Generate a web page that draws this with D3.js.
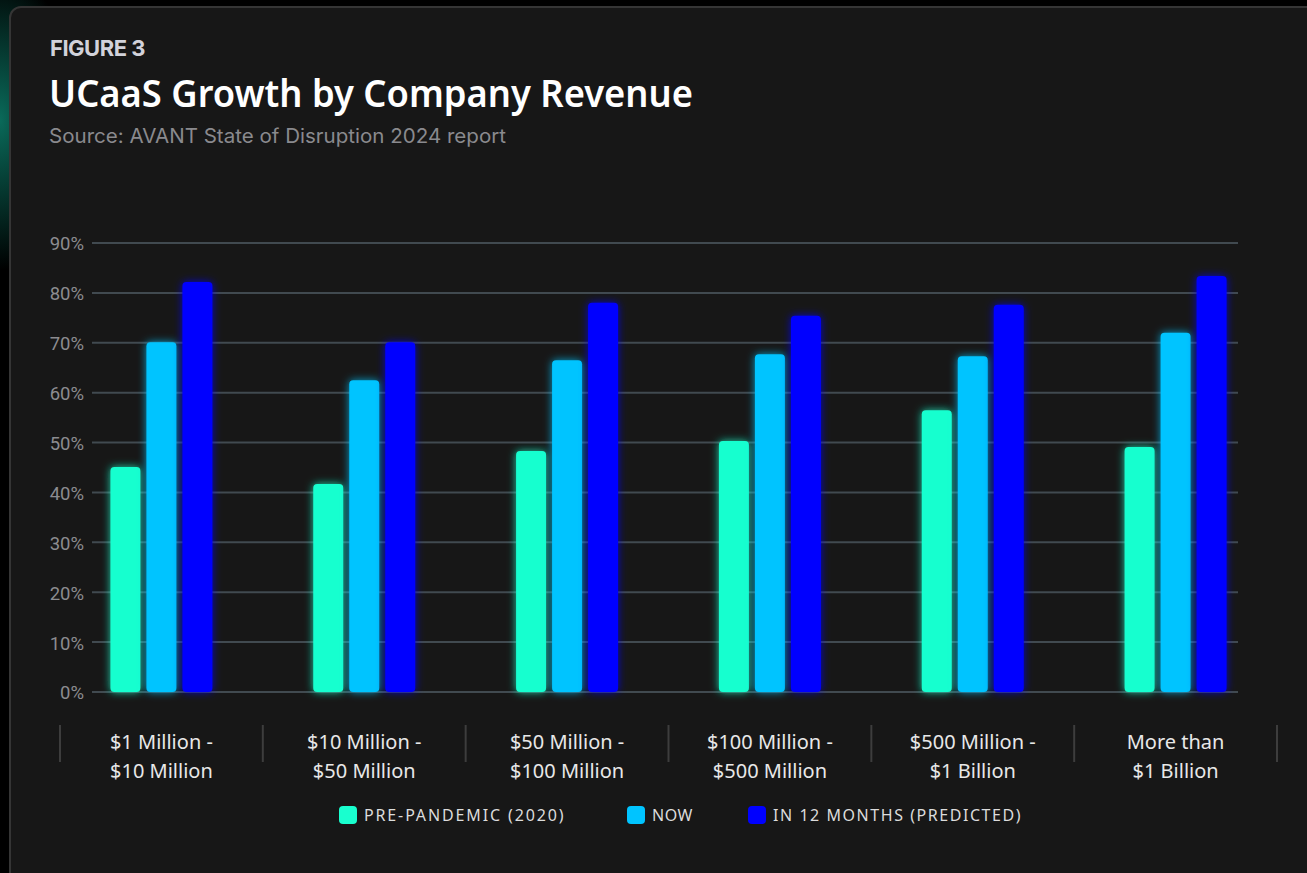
<!DOCTYPE html>
<html>
<head>
<meta charset="utf-8">
<style>
    body { margin: 0; background: #000; overflow: hidden; }
</style>
</head>
<body>
    <svg id="container" width="1307" height="873"></svg>
</body>
<script src="https://cdn.jsdelivr.net/npm/d3@7"></script>
<script>
    // data
    let categories = [
        ["$1 Million -", "$10 Million"],
        ["$10 Million -", "$50 Million"],
        ["$50 Million -", "$100 Million"],
        ["$100 Million -", "$500 Million"],
        ["$500 Million -", "$1 Billion"],
        ["More than", "$1 Billion"]
    ]
    let seriesNames = ["PRE-PANDEMIC (2020)", "NOW", "IN 12 MONTHS (PREDICTED)"]
    let prePandemic = [45.1, 41.7, 48.3, 50.3, 56.5, 49.1]
    let now = [70.1, 62.5, 66.5, 67.7, 67.3, 72.0]
    let in12Months = [82.2, 70.1, 78.0, 75.4, 77.6, 83.4]
    let yTicks = [0, 10, 20, 30, 40, 50, 60, 70, 80, 90]
    let colors = ["#19ffcf", "#00c4ff", "#0000ff"]

    let series = [prePandemic, now, in12Months]

    let svg = d3.select("#container")
    let defs = svg.append("defs")

    // background glow behind the card
    let bg = defs.append("radialGradient").attr("id", "bgGlow")
        .attr("cx", "0").attr("cy", "0.2").attr("r", "0.25")
    bg.append("stop").attr("offset", "0%").attr("stop-color", "#0a6a5a")
    bg.append("stop").attr("offset", "100%").attr("stop-color", "#000")
    svg.append("rect").attr("width", 1307).attr("height", 873).attr("fill", "#000")
    svg.append("rect").attr("x", 0).attr("y", 0).attr("width", 300).attr("height", 600)
        .attr("fill", "url(#bgGlow)")

    // card
    svg.append("rect")
        .attr("x", 10).attr("y", 7)
        .attr("width", 1330).attr("height", 900)
        .attr("rx", 11)
        .attr("fill", "#171717")
        .attr("stroke", "#353535")
        .attr("stroke-width", 2)

    // glow filters for bars
    colors.forEach((c, i) => {
        let f = defs.append("filter").attr("id", "glow" + i)
            .attr("x", "-50%").attr("y", "-20%").attr("width", "200%").attr("height", "140%")
        f.append("feDropShadow").attr("dx", 0).attr("dy", 0)
            .attr("stdDeviation", 4).attr("flood-color", c).attr("flood-opacity", 0.8)
    })

    // titles
    svg.append("text").attr("x", 50).attr("y", 56)
        .attr("font-family", "Inter").attr("font-weight", 700)
        .attr("font-size", 22).attr("fill", "#d2d2da").attr("letter-spacing", -0.5)
        .text("FIGURE 3")
    svg.append("text").attr("x", 49).attr("y", 107)
        .attr("font-family", "Noto Sans").attr("font-weight", 600)
        .attr("font-size", 38).attr("fill", "#ffffff")
        .attr("textLength", 644).attr("lengthAdjust", "spacingAndGlyphs")
        .text("UCaaS Growth by Company Revenue")
    svg.append("text").attr("x", 49).attr("y", 143)
        .attr("font-family", "Inter").attr("font-size", 20)
        .attr("fill", "#8a8a8e")
        .attr("textLength", 457).attr("lengthAdjust", "spacingAndGlyphs")
        .text("Source: AVANT State of Disruption 2024 report")

    // scales
    let x = d3.scaleBand()
        .domain(d3.range(categories.length))
        .range([60, 1277])
    let barW = 30, barGap = 6
    let y = d3.scaleLinear().domain([0, 90]).range([692, 243])

    // gridlines
    let grid = svg.append("g")
    grid.selectAll("line").data(yTicks).enter().append("line")
        .attr("x1", 92).attr("x2", 1238)
        .attr("y1", d => y(d)).attr("y2", d => y(d))
        .attr("stroke", "#414a50").attr("stroke-width", 2)

    // y axis labels
    let yAxis = d3.axisLeft(y).tickValues(yTicks).tickFormat(d => d + "%").tickSize(0).tickPadding(0)
    let ya = svg.append("g").attr("transform", "translate(84,1)").call(yAxis)
    ya.select(".domain").remove()
    ya.selectAll("text")
        .attr("font-family", "Roboto").attr("font-size", 18.5)
        .attr("fill", "#8c8c90")

    // bars
    series.forEach((vals, s) => {
        svg.append("g").attr("filter", "url(#glow" + s + ")")
            .selectAll("rect").data(vals).enter().append("rect")
            .attr("x", (d, i) => x(i) + x.bandwidth() / 2 - (barW * 1.5 + barGap) + s * (barW + barGap))
            .attr("y", d => y(d))
            .attr("width", barW)
            .attr("height", d => y(0) - y(d))
            .attr("rx", 4)
            .attr("fill", colors[s])
    })

    // category separators
    let seps = d3.range(categories.length + 1).map(i => i < categories.length ? x(i) : x(i - 1) + x.bandwidth())
    svg.append("g").selectAll("line").data(seps).enter().append("line")
        .attr("x1", d => d).attr("x2", d => d)
        .attr("y1", 725).attr("y2", 762)
        .attr("stroke", "#3d3d3d").attr("stroke-width", 2)

    // category labels
    let cat = svg.append("g").selectAll("text").data(categories).enter().append("text")
        .attr("x", (d, i) => x(i) + x.bandwidth() / 2)
        .attr("y", 749)
        .attr("text-anchor", "middle")
        .attr("font-family", "Noto Sans").attr("font-size", 20)
        .attr("fill", "#e8e8e8")
    cat.append("tspan").attr("x", (d, i) => x(i) + x.bandwidth() / 2).text(d => d[0])
    cat.append("tspan").attr("x", (d, i) => x(i) + x.bandwidth() / 2).attr("dy", 29).text(d => d[1])

    // legend
    let legendX = [339, 627, 748]
    let legendW = [201, 42, 249]
    let legend = svg.append("g").selectAll("g").data(seriesNames).enter().append("g")
        .attr("transform", (d, i) => "translate(" + legendX[i] + ",806)")
    legend.append("rect").attr("width", 18).attr("height", 18).attr("rx", 4)
        .attr("fill", (d, i) => colors[i])
    legend.append("text").attr("x", 25).attr("y", 15)
        .attr("font-family", "Noto Sans").attr("font-size", 16)
        .attr("letter-spacing", 1.5)
        .attr("textLength", (d, i) => legendW[i])
        .attr("fill", "#dcdcdc")
        .text(d => d)
</script>
</html>
